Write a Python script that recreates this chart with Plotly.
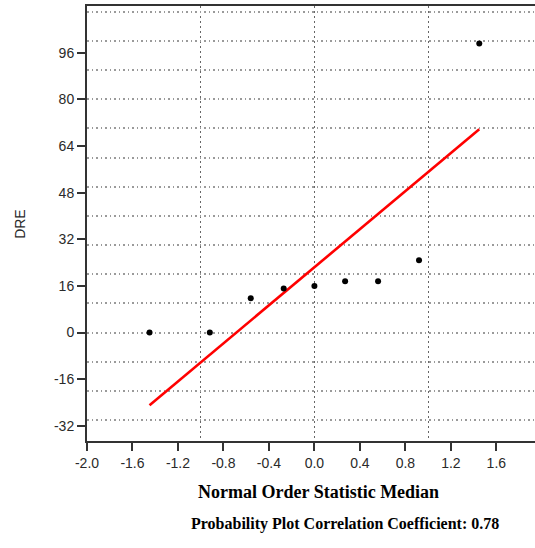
import plotly.graph_objects as go

# Data
osm_x = [-1.45, -0.92, -0.56, -0.27, 0.0, 0.27, 0.56, 0.92, 1.45]
dre_y = [0.0, 0.0, 11.8, 15.1, 16.0, 17.6, 17.6, 24.8, 99.1]
fit_x = [-1.45, 1.45]
fit_y = [-24.9, 69.7]

x_ticks = [-2.0, -1.6, -1.2, -0.8, -0.4, 0.0, 0.4, 0.8, 1.2, 1.6]
x_tick_labels = ["-2.0", "-1.6", "-1.2", "-0.8", "-0.4", "0.0", "0.4", "0.8", "1.2", "1.6"]
y_ticks = [-32, -16, 0, 16, 32, 48, 64, 80, 96]
y_tick_labels = ["-32", "-16", "0", "16", "32", "48", "64", "80", "96"]
x_range = [-2.0, 1.94]
y_range = [-37.2, 112.0]

fig = go.Figure()
# invisible trace to activate the grid-only overlay axes
fig.add_trace(go.Scatter(x=osm_x, y=dre_y, mode="markers", xaxis="x2", yaxis="y2",
                         marker=dict(opacity=0), hoverinfo="skip", showlegend=False))
fig.add_trace(go.Scatter(x=fit_x, y=fit_y, mode="lines",
                         line=dict(color="#ff0000", width=2.6), showlegend=False))
fig.add_trace(go.Scatter(x=osm_x, y=dre_y, mode="markers",
                         marker=dict(color="black", size=6), showlegend=False))

tickfont = dict(family="Liberation Sans, Arial", size=14, color="#2a2a2a")

fig.update_layout(
    width=535, height=548,
    margin=dict(l=87, r=0, t=6, b=107),
    paper_bgcolor="white", plot_bgcolor="white",
    showlegend=False,
    xaxis=dict(range=x_range, tickvals=x_ticks, ticktext=x_tick_labels, showgrid=False,
               zeroline=False, showline=True, linecolor="#333333", linewidth=2,
               mirror=True, ticks="outside", ticklen=8, tickwidth=1.5,
               tickcolor="#333333", tickfont=tickfont),
    yaxis=dict(range=y_range, tickvals=y_ticks, ticktext=y_tick_labels, showgrid=False,
               zeroline=False, showline=True, linecolor="#333333", linewidth=2,
               mirror=False, ticks="outside", ticklen=8, tickwidth=1.5,
               tickcolor="#333333", tickfont=tickfont),
    xaxis2=dict(range=x_range, overlaying="x", dtick=1, tick0=0, showgrid=True,
                gridcolor="#666666", gridwidth=1, griddash="2px,3px",
                showticklabels=False, ticks="", zeroline=False, showline=False),
    yaxis2=dict(range=y_range, overlaying="y", dtick=10, tick0=0, showgrid=True,
                gridcolor="#9a9a9a", gridwidth=1.5, griddash="1.5px,3px",
                showticklabels=False, ticks="", zeroline=False, showline=False),
    annotations=[
        dict(text="DRE", xref="paper", yref="paper", x=-0.151, y=0.5,
             textangle=-90, showarrow=False, xanchor="center", yanchor="middle",
             font=dict(family="Liberation Sans, Arial", size=14, color="#2a2a2a")),
        dict(text="<b>Normal Order Statistic Median</b>", xref="paper", yref="paper",
             x=0.516, y=-0.1166, showarrow=False, xanchor="center", yanchor="middle",
             font=dict(family="Liberation Serif, Times New Roman", size=18, color="black")),
        dict(text="<b>Probability Plot Correlation Coefficient: 0.78</b>", xref="paper",
             yref="paper", x=0.576, y=-0.1908, showarrow=False, xanchor="center",
             yanchor="middle",
             font=dict(family="Liberation Serif, Times New Roman", size=16, color="black")),
    ],
)

fig.write_html(
    "out.html",
    config={"displayModeBar": False},
    post_script="document.body.style.margin='0';document.body.style.overflow='hidden';",
)
